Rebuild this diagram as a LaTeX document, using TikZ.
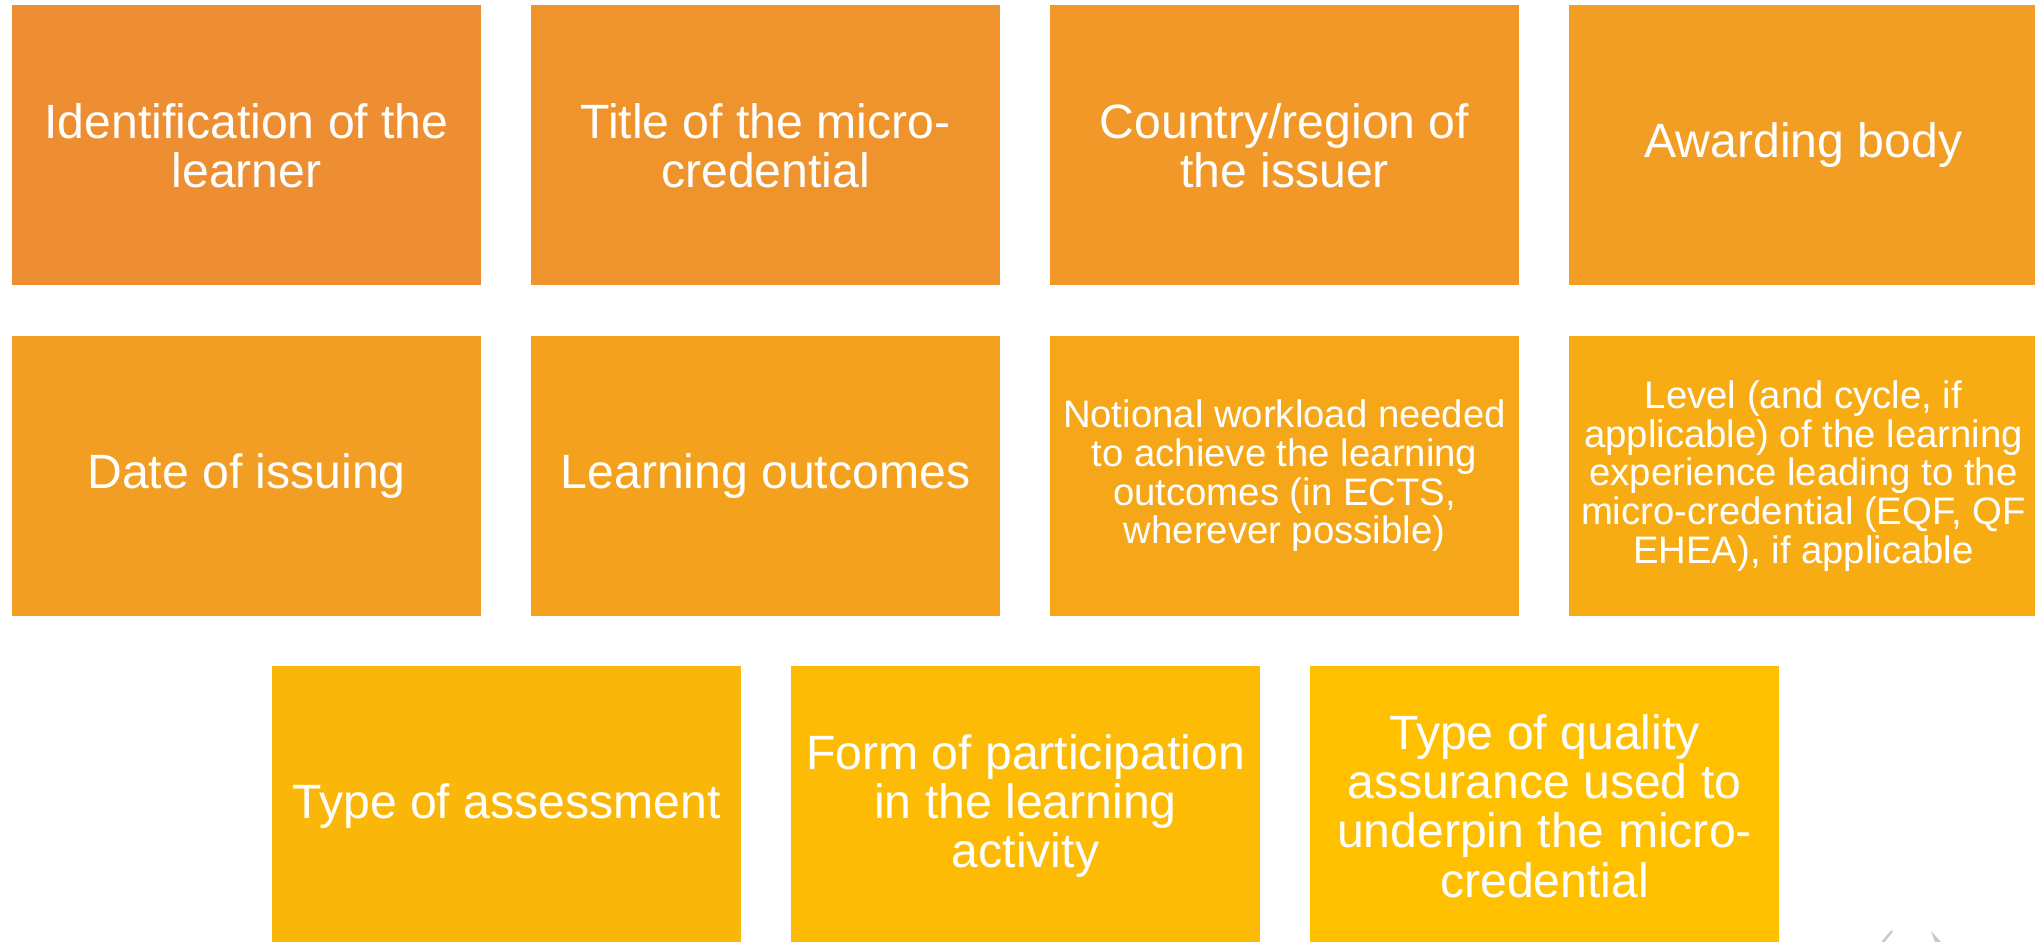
\documentclass[tikz,border=0pt]{standalone}
\usepackage{fontspec}
\setmainfont{Liberation Sans}
\definecolor{c0}{RGB}{237,142,50}
\definecolor{c1}{RGB}{239,147,45}
\definecolor{c2}{RGB}{241,152,40}
\definecolor{c3}{RGB}{242,157,35}
\definecolor{c4}{RGB}{244,162,30}
\definecolor{c5}{RGB}{246,167,25}
\definecolor{c6}{RGB}{248,172,20}
\definecolor{c7}{RGB}{250,177,15}
\definecolor{c8}{RGB}{251,182,10}
\definecolor{c9}{RGB}{253,187,5}
\definecolor{c10}{RGB}{255,192,0}
\definecolor{logogray}{RGB}{200,200,200}

\begin{document}
\begin{tikzpicture}[cell/.style={rectangle, minimum width=4.69cm, minimum height=2.8cm, inner sep=0pt, text=white, align=center, font=\fontsize{13.7}{14}\selectfont},
	small/.style={font=\fontsize{10.9}{11}\selectfont}]
		\useasboundingbox (0, 0) rectangle (20.35, 9.42);
		
		\node[cell, fill=c0] (id) at (2.465, 7.965) {Identification of the\\learner};
		\node[cell, fill=c1] (title) at (7.655, 7.965) {Title of the micro-\\credential};
		\node[cell, fill=c2] (country) at (12.845, 7.965) {Country/region of\\the issuer};
		\node[cell, fill=c3] (award) at (18.035, 7.965) {Awarding body};
		
		\node[cell, fill=c3] (date) at (2.465, 4.66) {Date of issuing};
		\node[cell, fill=c4] (outc) at (7.655, 4.66) {Learning outcomes};
		\node[cell, small, fill=c5] (load) at (12.845, 4.66) {Notional workload needed\\to achieve the learning\\outcomes (in ECTS,\\wherever possible)};
		\node[cell, small, fill=c6] (level) at (18.035, 4.66) {Level (and cycle, if\\applicable) of the learning\\experience leading to the\\micro-credential (EQF, QF\\EHEA), if applicable};
		
		\node[cell, fill=c8] (assess) at (5.065, 1.36) {Type of assessment};
		\node[cell, fill=c9] (form) at (10.255, 1.36) {Form of participation\\in the learning\\activity};
		\node[cell, fill=c10] (qa) at (15.445, 1.36) {Type of quality\\assurance used to\\underpin the micro-\\credential};
		
		\draw[logogray, line width=0.7pt] (18.83, 0) -- (18.92, 0.11);
		\fill[logogray] (19.31, 0.11) -- (19.41, 0) -- (19.35, 0) -- cycle;
	\end{tikzpicture}
\end{document}
